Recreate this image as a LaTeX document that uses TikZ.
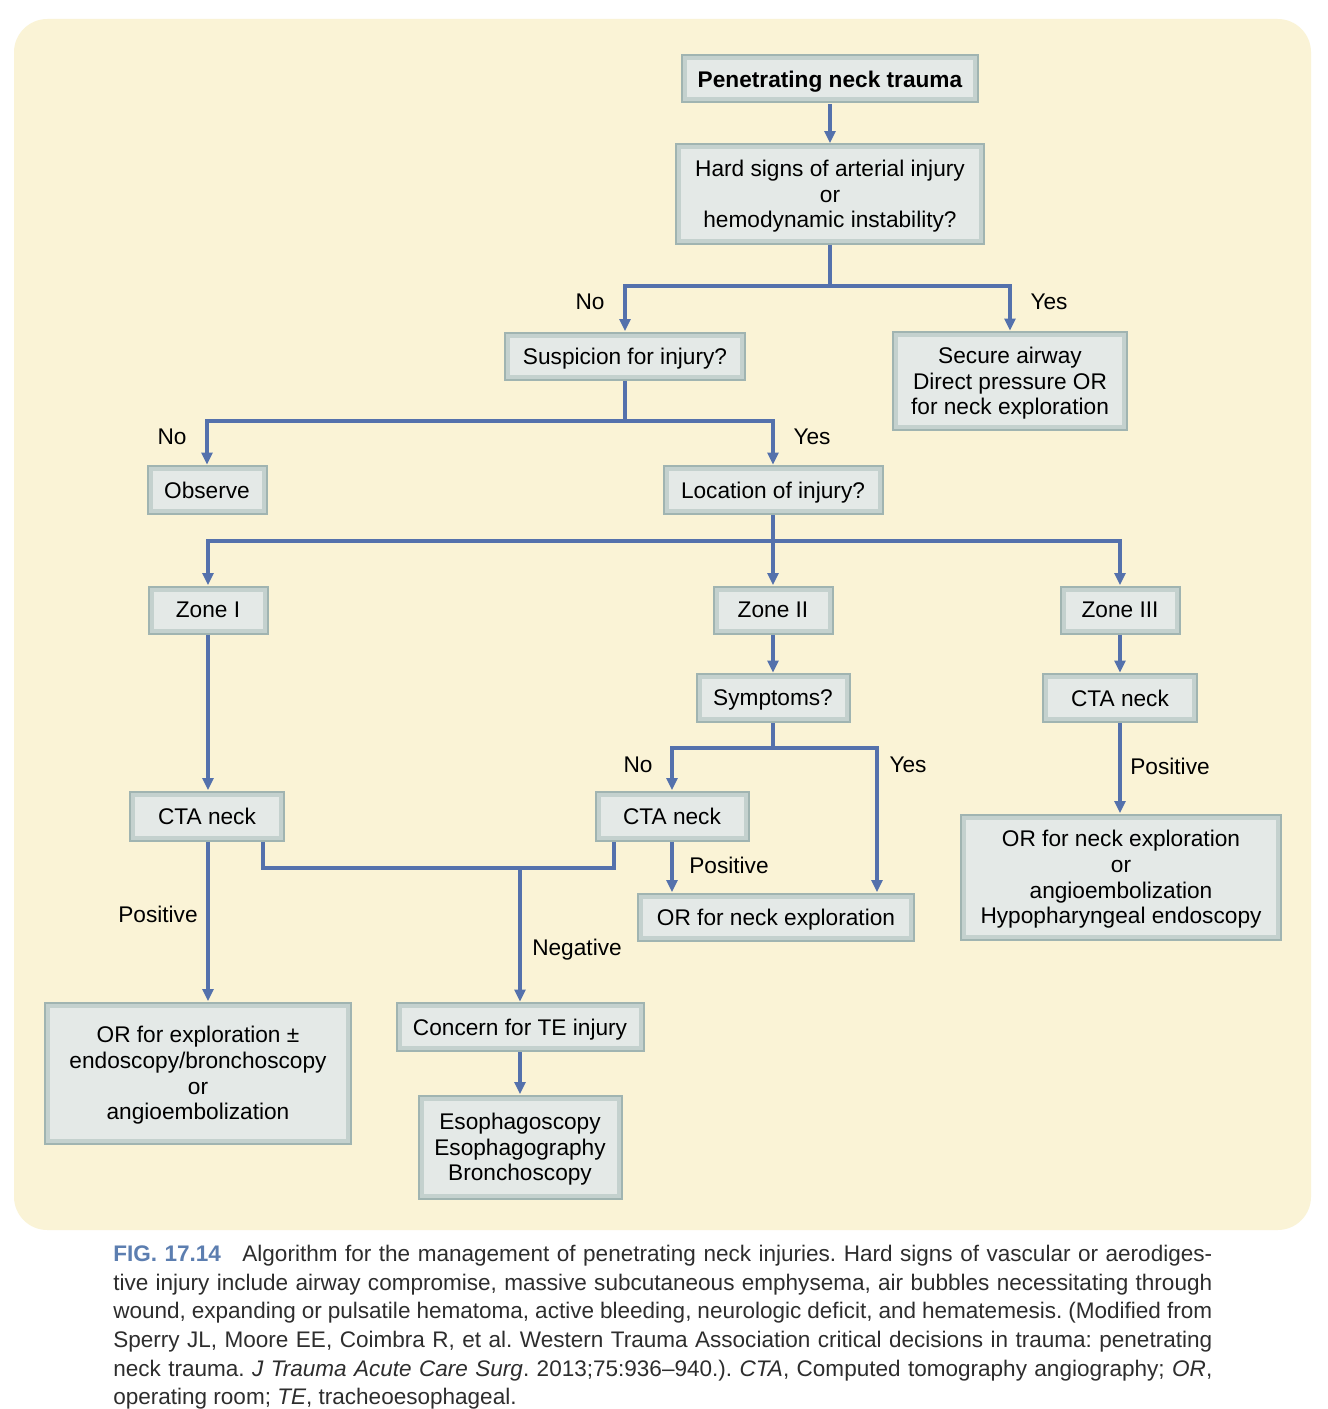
\documentclass[tikz,border=0pt]{standalone}
\usepackage{fontspec}
\setmainfont{Liberation Sans}
\usetikzlibrary{arrows.meta,calc}
\definecolor{panel}{RGB}{250,243,214}
\definecolor{boxedge}{RGB}{160,180,177}
\definecolor{boxmid}{RGB}{196,209,206}
\definecolor{boxfill}{RGB}{228,233,231}
\definecolor{flow}{RGB}{84,113,172}
\definecolor{capblue}{RGB}{92,126,176}
\definecolor{captext}{RGB}{45,45,45}
\newcommand{\boxfont}{\fontsize{17}{19.2}\selectfont}
\newcommand{\capfont}{\fontsize{16.9}{21.45}\selectfont\frenchspacing}
\begin{document}
\begin{tikzpicture}[x=0.75pt,y=-0.75pt,
  box/.style={inner sep=0pt, align=center, font=\boxfont, text=black, fill=boxedge, text depth=0pt,
    path picture={
      \fill[boxmid] ($(path picture bounding box.north west)+(2,2)$) rectangle ($(path picture bounding box.south east)+(-2,-2)$);
      \fill[boxfill] ($(path picture bounding box.north west)+(6,6)$) rectangle ($(path picture bounding box.south east)+(-6,-6)$);
    }},
  bw/.style={minimum width=#1*0.75pt},
  bh/.style={minimum height=#1*0.75pt},
  ln/.style={draw=flow, line width=3pt},
  arr/.style={ln, -{Triangle[width=8pt,length=9pt]}},
  lbl/.style={inner sep=0pt, font=\boxfont, text=black}]
\useasboundingbox (0,0) rectangle (1327,1409);
\fill[white] (0,0) rectangle (1327,1409);
\fill[panel, rounded corners=25pt] (14,19) rectangle (1311,1230);

% nodes
\node[box,bw=298,bh=49,font=\boxfont\bfseries] (pnt) at (830,79) {Penetrating neck trauma};
\node[box,bw=310,bh=101] (hard) at (830,194) {Hard signs of arterial injury\\or\\hemodynamic instability?};
\node[box,bw=242,bh=49] (susp) at (625,356) {Suspicion for injury?};
\node[box,bw=236,bh=100] (secure) at (1010,381) {Secure airway\\Direct pressure OR\\for neck exploration};
\node[box,bw=121,bh=50] (observe) at (207,490) {Observe};
\node[box,bw=221,bh=50] (loc) at (773,490) {Location of injury?};
\node[box,bw=121,bh=49] (z1) at (208,610) {Zone I};
\node[box,bw=121,bh=49] (z2) at (773,610) {Zone II};
\node[box,bw=121,bh=49] (z3) at (1120,610) {Zone III};
\node[box,bw=155,bh=50] (symp) at (773,698) {Symptoms?};
\node[box,bw=156,bh=50] (cta3) at (1120,698) {CTA neck};
\node[box,bw=156,bh=51] (ctaL) at (207,816) {CTA neck};
\node[box,bw=155,bh=51] (ctaM) at (672,816) {CTA neck};
\node[box,bw=278,bh=49] (orM) at (776,917) {OR for neck exploration};
\node[box,bw=322,bh=127] (orR) at (1121,877) {OR for neck exploration\\or\\angioembolization\\Hypopharyngeal endoscopy};
\node[box,bw=308,bh=143] (orL) at (198,1073) {OR for exploration ±\\endoscopy/bronchoscopy\\or\\angioembolization};
\node[box,bw=249,bh=50] (te) at (520,1027) {Concern for TE injury};
\node[box,bw=205,bh=105] (eso) at (520,1147) {Esophagoscopy\\Esophagography\\Bronchoscopy};

% connectors
\draw[arr] (pnt) -- (hard);
\coordinate (j1) at (830,286);
\draw[ln] (hard) -- (j1);
\draw[arr] (j1) -| (susp);
\draw[arr] (j1) -| (secure);
\coordinate (j2) at (625,421);
\draw[ln] (susp) -- (j2);
\draw[arr] (j2) -| (observe);
\draw[arr] (j2) -| (loc);
\coordinate (j3) at (773,541);
\draw[ln] (loc) -- (j3);
\draw[arr] (j3) -| (z1);
\draw[arr] (j3) -- (z2);
\draw[arr] (j3) -| (z3);
\draw[arr] (z2) -- (symp);
\draw[arr] (z3) -- (cta3);
\draw[arr] (z1.south) -- (z1.south |- ctaL.north);
\coordinate (j4) at (773,748);
\draw[ln] (symp) -- (j4);
\draw[arr] (j4) -| (ctaM);
\draw[arr] (j4) -| ($(orM.north)+(101,0)$);
\draw[arr] (ctaM) -- (ctaM |- orM.north);
\draw[arr] (cta3.south) -- (cta3.south |- orR.north);
\draw[arr] ($(ctaL.south)+(1,0)$) -- ($(ctaL.south |- orL.north)+(1,0)$);
\coordinate (j5) at (520,868);
\draw[ln] ($(ctaL.south)+(56,0)$) |- (j5) -| ($(ctaM.south)+(-58,0)$);
\draw[arr] (j5) -- (te);
\draw[arr] (te) -- (eso);

% labels
\node[lbl] (l1) at (590,302) {No};
\node[lbl] (l2) at (1049,302) {Yes};
\node[lbl] (l3) at (172,437) {No};
\node[lbl] (l4) at (812,437) {Yes};
\node[lbl] (l5) at (638,765) {No};
\node[lbl] (l6) at (908,765) {Yes};
\node[lbl] (l7) at (729,865) {Positive};
\node[lbl] (l8) at (1170,766) {Positive};
\node[lbl] (l9) at (158,914) {Positive};
\node[lbl] (l10) at (577,950) {Negative};

% caption
\node[anchor=north west, inner sep=0pt, text width=1099*0.75pt, align=justify, font=\capfont, text=captext] (cap) at (113,1245)
{\textcolor{capblue}{\textbf{FIG. 17.14}}\hspace{0.95em}Algorithm for the management of penetrating neck injuries. Hard signs of vascular or aerodiges-\linebreak
tive injury include airway compromise, massive subcutaneous emphysema, air bubbles necessitating through\linebreak
wound, expanding or pulsatile hematoma, active bleeding, neurologic deficit, and hematemesis. (Modified from\linebreak
Sperry JL, Moore EE, Coimbra R, et al. Western Trauma Association critical decisions in trauma: penetrating\linebreak
neck trauma. \textit{J Trauma Acute Care Surg}. 2013;75:936–940.). \textit{CTA}, Computed tomography angiography; \textit{OR},\linebreak
operating room; \textit{TE}, tracheoesophageal.};
\end{tikzpicture}
\end{document}
